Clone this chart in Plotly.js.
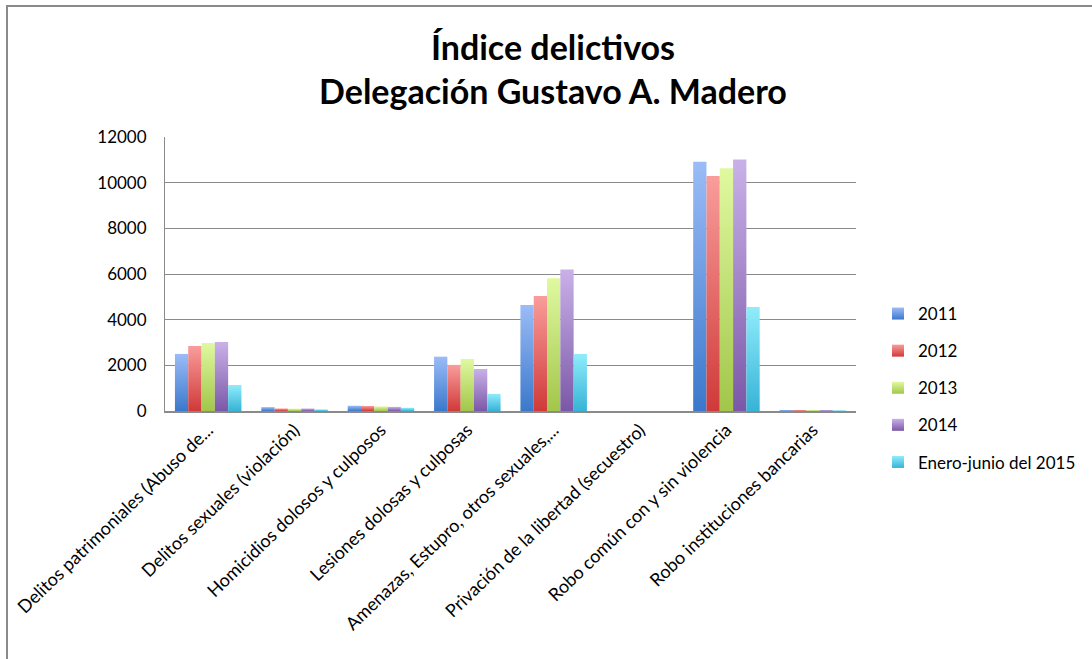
<!DOCTYPE html>
<html>
<head>
<meta charset="utf-8">
<script src="https://cdn.plot.ly/plotly-3.0.1.min.js"></script>
<style>
  html, body { margin:0; padding:0; background:#fff; }
  #wrap { position:relative; width:1092px; height:659px; overflow:hidden; }
  #chart { position:absolute; left:0; top:0; width:1092px; height:659px; }
  #frame { position:absolute; left:6px; top:5px; width:1100px; height:700px;
           border-top:2px solid #8a8a8a; border-left:2px solid #8a8a8a; pointer-events:none; }
</style>
</head>
<body>
<svg width="0" height="0" style="position:absolute">
  <defs id="gradDefs"></defs>
</svg>
<div id="wrap">
  <div id="chart"></div>
  <div id="frame"></div>
</div>
<script>
const categories = [
  "Delitos patrimoniales (Abuso de...",
  "Delitos sexuales (violación)",
  "Homicidios dolosos y culposos",
  "Lesiones dolosas y culposas",
  "Amenazas, Estupro, otros sexuales,...",
  "Privación de la libertad (secuestro)",
  "Robo común con y sin violencia",
  "Robo instituciones bancarias"
];
const seriesNames = ["2011", "2012", "2013", "2014", "Enero-junio del 2015"];
const v2011 = [2500, 170, 230, 2380, 4640, 0, 10920, 40];
const v2012 = [2850, 110, 220, 2020, 5040, 0, 10290, 40];
const v2013 = [2980, 100, 200, 2280, 5810, 0, 10630, 40];
const v2014 = [3020, 110, 180, 1840, 6200, 0, 11020, 40];
const v2015 = [1140, 70, 140, 750, 2500, 0, 4560, 30];
const seriesValues = [v2011, v2012, v2013, v2014, v2015];

const gradTop = ["#9bbcf7", "#f99d9b", "#e0f9a0", "#c9b1e8", "#90ecfb"];
const gradBot = ["#3b78cb", "#cf3a39", "#a2c64a", "#7b58a7", "#36b3d6"];
const midColor = ["#6a9be2", "#e46a69", "#c2e076", "#a184c8", "#62cfe8"];

// gradient definitions
const defs = document.getElementById("gradDefs");
const NS = "http://www.w3.org/2000/svg";
gradTop.forEach((c, i) => {
  const g = document.createElementNS(NS, "linearGradient");
  g.setAttribute("id", "barGrad" + i);
  g.setAttribute("x1", "0"); g.setAttribute("y1", "0");
  g.setAttribute("x2", "0"); g.setAttribute("y2", "1");
  const s1 = document.createElementNS(NS, "stop");
  s1.setAttribute("offset", "0"); s1.setAttribute("stop-color", c);
  const s2 = document.createElementNS(NS, "stop");
  s2.setAttribute("offset", "1"); s2.setAttribute("stop-color", gradBot[i]);
  g.appendChild(s1); g.appendChild(s2);
  defs.appendChild(g);
});

const FONT = "Lato, 'Open Sans', sans-serif";

const traces = seriesNames.map((name, i) => ({
  type: "bar",
  name: name,
  x: categories,
  y: seriesValues[i],
  legendgroup: "g" + i,
  marker: { color: midColor[i], line: { width: 0 } },
  hoverinfo: "x+y+name"
}));

const layout = {
  width: 1092,
  height: 659,
  paper_bgcolor: "#ffffff",
  plot_bgcolor: "#ffffff",
  margin: { l: 165, r: 235, t: 137, b: 248 },
  title: {
    text: "<b>Índice delictivos<br>Delegación Gustavo A. Madero</b>",
    font: { family: FONT, size: 34, color: "#000" },
    x: 553 / 1092,
    xanchor: "center",
    xref: "container",
    y: 1 - 60 / 659,
    yanchor: "top",
    yref: "container"
  },
  barmode: "group",
  bargap: 0.23,
  bargroupgap: 0,
  showlegend: true,
  legend: {
    x: (878 - 165) / 692,
    xanchor: "left",
    y: (411 - 388) / 274,
    yanchor: "middle",
    font: { family: FONT, size: 17, color: "#000" },
    tracegroupgap: 12,
    bgcolor: "rgba(0,0,0,0)",
    itemwidth: 30
  },
  xaxis: {
    type: "category",
    tickangle: -44,
    tickfont: { family: FONT, size: 18, color: "#000" },
    showline: true,
    linecolor: "#8a8a8a",
    linewidth: 1.5,
    ticks: "",
    showgrid: false,
    automargin: false
  },
  yaxis: {
    range: [0, 12000],
    dtick: 2000,
    tickformat: "d",
    tickfont: { family: FONT, size: 17, color: "#000" },
    showline: true,
    linecolor: "#8a8a8a",
    linewidth: 1,
    gridcolor: "#8a8a8a",
    gridwidth: 1,
    ticks: "",
    ticklabelstandoff: 14,
    zeroline: false,
    automargin: false
  }
};

function applyGradients(gd) {
  const barTraces = gd.querySelectorAll(".barlayer .trace");
  barTraces.forEach((t, i) => {
    t.querySelectorAll("path").forEach(p => { p.style.fill = "url(#barGrad" + i + ")"; });
  });
  const legTraces = gd.querySelectorAll(".legend .traces");
  legTraces.forEach((t, i) => {
    t.querySelectorAll(".legendpoints path").forEach(p => { p.style.fill = "url(#barGrad" + i + ")"; });
  });
}

Plotly.newPlot("chart", traces, layout, { displayModeBar: false, staticPlot: true }).then(gd => {
  applyGradients(gd);
  gd.on("plotly_afterplot", () => applyGradients(gd));
});
</script>
</body>
</html>
